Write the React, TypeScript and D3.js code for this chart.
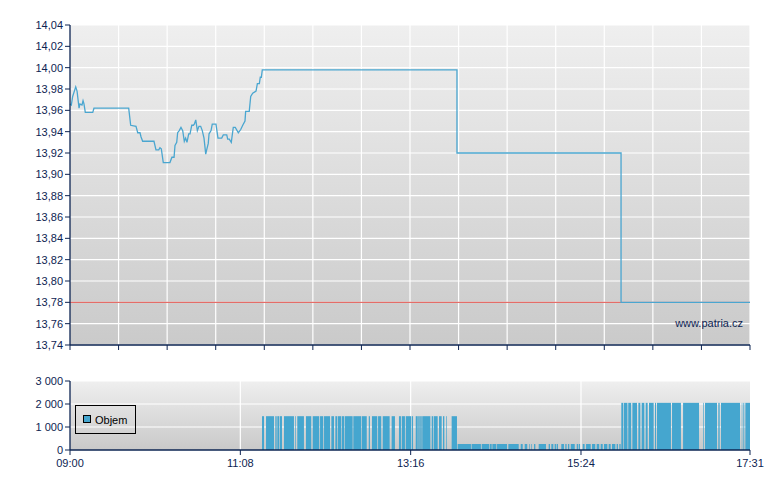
import React from "react";
import * as d3 from "d3";

// minutes since 09:00 and price
const priceMinutes = [0, 1, 2, 4.3, 5.3, 6.8, 7.5, 9, 9.8, 10.5, 11.5, 17.1, 18, 44.1, 45.6, 49.6, 50.9, 52.6, 53.4, 54.6, 61.4, 63.1, 64.6, 66.7, 67.6, 68.6, 70.1, 75.1, 76.6, 78.2, 78.9, 80.2, 80.9, 82.1, 83.4, 84.7, 85.9, 86.9, 87.9, 89.2, 90.2, 91.5, 92.7, 93.4, 94.5, 95.7, 96.9, 98.2, 99.4, 100.7, 102.0, 102.7, 103.9, 104.5, 106.0, 106.9, 109.7, 111.2, 114.0, 115.2, 117.8, 118.5, 119.7, 121.2, 122.7, 124.2, 126.5, 128.3, 129.8, 131.5, 132.0, 134.7, 135.8, 137.3, 139.8, 140.8, 142.3, 143.0, 143.8, 144.5, 290.8, 290.8, 414.1, 414.1, 511];
const priceValues = [13.966, 13.965, 13.973, 13.982, 13.978, 13.962, 13.966, 13.965, 13.969, 13.966, 13.958, 13.958, 13.962, 13.962, 13.946, 13.945, 13.939, 13.939, 13.935, 13.931, 13.931, 13.931, 13.923, 13.923, 13.925, 13.924, 13.911, 13.911, 13.916, 13.916, 13.927, 13.930, 13.939, 13.941, 13.944, 13.941, 13.931, 13.934, 13.930, 13.938, 13.938, 13.946, 13.946, 13.947, 13.951, 13.941, 13.945, 13.945, 13.941, 13.934, 13.919, 13.923, 13.929, 13.938, 13.941, 13.947, 13.947, 13.934, 13.934, 13.937, 13.937, 13.933, 13.933, 13.930, 13.944, 13.944, 13.939, 13.942, 13.946, 13.950, 13.959, 13.959, 13.973, 13.976, 13.978, 13.985, 13.985, 13.991, 13.991, 13.998, 13.998, 13.92, 13.92, 13.78, 13.78];

const referencePrice = 13.78;

// volume runs: [start minute, end minute]
const volRunsA = [[144.3,145.8],[147.3,153.3],[154.3,155.3],[155.8,157.3],[157.8,159.3],[160.8,168.3],[169.3,169.8],[170.8,175.8],[177.3,181.3],[182.4,187.3],[187.9,190.3],[190.9,195.4],[196.4,198.4],[199.4,200.9],[201.4,203.9],[204.4,205.9],[206.4,212.4],[212.9,218.9],[219.4,223.0],[224.5,225.4],[226.9,230.9],[231.5,233.9],[235.0,240.2],[241.7,244.2],[247.2,248.7],[249.3,251.7],[252.3,256.3],[256.8,257.8],[259.8,261.3],[261.7,262.8],[263.2,264.3],[264.7,270.8],[271.8,272.8],[273.3,276.3],[277.3,279.3],[280.3,281.3],[282.8,283.3],[286.8,290.8]];
const volA = 1470;
const volRunsB = [[291.3,301.3],[301.8,308.8],[309.4,314.9],[315.4,316.9],[317.4,320.4],[320.9,328.4],[329.4,337.2],[338.7,340.2],[341.7,343.6],[345.2,345.7],[346.7,347.2],[348.7,349.7],[352.2,357.7],[359.7,360.7],[361.7,363.2],[364.2,365.2],[365.7,366.7],[369.2,371.2],[372.2,373.2],[374.2,375.2],[376.3,379.3],[380.8,381.8],[382.3,383.3],[385.3,386.7],[387.8,391.3],[392.3,394.7],[395.8,397.7],[398.8,400.3],[401.3,403.8],[404.8,406.3],[407.3,409.8],[410.8,411.8],[412.8,413.8]];
const volB = 260;
const volRunsC = [[414.3,415.8],[416.3,418.9],[419.5,421.7],[422.6,426.1],[427.1,428.6],[429.6,431.6],[432.6,434.1],[435.1,438.6],[439.6,440.4],[441.1,451.6],[452.4,459.1],[460.7,472.7],[475.7,476.2],[477.2,486.2],[487.2,488.2],[489.2,503.5],[504.8,505.2],[506.0,506.7],[507.5,511]];
const volC = 2050;

const priceTicks = [13.74, 13.76, 13.78, 13.8, 13.82, 13.84, 13.86, 13.88, 13.9, 13.92, 13.94, 13.96, 13.98, 14.0, 14.02, 14.04];
const volTicks = [0, 1000, 2000, 3000];
const volTickLabels = ["0", "1 000", "2 000", "3 000"];
const timeLabelMinutes = [0, 128, 256, 384, 511];
const timeLabels = ["09:00", "11:08", "13:16", "15:24", "17:31"];
const totalMinutes = 511;
const gridIntervals = 14;

const AXIS = "#0d2452";
const LINE = "#4aa6d0";
const BAR = "#45a6cf";
const FONT = "'Liberation Sans', Arial, sans-serif";

export default function App() {
  const left = 70, right = 750;
  const top1 = 25, bot1 = 345;
  const top2 = 381, bot2 = 450;
  const x = d3.scaleLinear().domain([0, totalMinutes]).range([left, right]);
  const y = d3.scaleLinear().domain([13.74, 14.04]).range([bot1, top1]);
  const yv = d3.scaleLinear().domain([0, 3000]).range([bot2, top2]);
  const gridMinutes = d3.range(0, gridIntervals + 1).map((i) => (i * totalMinutes) / gridIntervals);
  const pts = priceMinutes.map((m, i) => [m, priceValues[i]] as [number, number]);
  const line = d3.line<[number, number]>().x((d) => x(d[0])).y((d) => y(d[1]));
  const fmt = (v: number) => v.toFixed(2).replace(".", ",");
  const runs = [
    ...volRunsA.map((r) => ({ s: r[0], e: r[1], v: volA })),
    ...volRunsB.map((r) => ({ s: r[0], e: r[1], v: volB })),
    ...volRunsC.map((r) => ({ s: r[0], e: r[1], v: volC })),
  ];
  return (
    <svg width={780} height={490} style={{ position: "absolute", left: 0, top: 0, background: "#fff" }} fontFamily={FONT}>
      <defs>
        <linearGradient id="bg1" x1="0" y1="0" x2="0" y2="1">
          <stop offset="0" stopColor="#efefef" />
          <stop offset="1" stopColor="#cacaca" />
        </linearGradient>
        <linearGradient id="bg2" x1="0" y1="0" x2="0" y2="1">
          <stop offset="0" stopColor="#efefef" />
          <stop offset="1" stopColor="#c9c9c9" />
        </linearGradient>
      </defs>
      {/* top chart */}
      <rect x={left} y={top1} width={right - left} height={bot1 - top1} fill="url(#bg1)" />
      {priceTicks.map((t) => (
        <line key={"hg" + t} x1={left} x2={right} y1={y(t)} y2={y(t)} stroke="#fff" strokeWidth={1.2} />
      ))}
      {gridMinutes.slice(1).map((m) => (
        <line key={"vg" + m} x1={x(m)} x2={x(m)} y1={top1} y2={bot1} stroke="#fff" strokeWidth={1.2} />
      ))}
      <line x1={left} x2={right} y1={y(referencePrice)} y2={y(referencePrice)} stroke="#e0504a" strokeWidth={1} />
      <path d={line(pts) || ""} fill="none" stroke={LINE} strokeWidth={1.3} />
      <text x={743} y={327} fontSize={11} fill={AXIS} textAnchor="end">www.patria.cz</text>
      <line x1={left} x2={left} y1={top1} y2={bot1} stroke={AXIS} strokeWidth={1.3} />
      <line x1={left} x2={right} y1={bot1} y2={bot1} stroke={AXIS} strokeWidth={1.3} />
      {priceTicks.map((t) => (
        <g key={"yt" + t}>
          <line x1={left - 5} x2={left} y1={y(t)} y2={y(t)} stroke={AXIS} />
          <text x={left - 7} y={y(t) + 4} fontSize={11} fill={AXIS} textAnchor="end">{fmt(t)}</text>
        </g>
      ))}
      {gridMinutes.map((m) => (
        <line key={"xt" + m} x1={x(m)} x2={x(m)} y1={bot1} y2={bot1 + 5} stroke={AXIS} />
      ))}
      {/* volume chart */}
      <rect x={left} y={top2} width={right - left} height={bot2 - top2} fill="url(#bg2)" />
      {volTicks.slice(1).map((t) => (
        <line key={"vh" + t} x1={left} x2={right} y1={yv(t)} y2={yv(t)} stroke="#fff" strokeWidth={1.2} />
      ))}
      {timeLabelMinutes.slice(1, -1).map((m) => (
        <line key={"vv" + m} x1={x(m)} x2={x(m)} y1={top2} y2={bot2} stroke="#fff" strokeWidth={1.2} />
      ))}
      {runs.map((r, i) => (
        <rect key={"b" + i} x={x(r.s)} y={yv(r.v)} width={x(r.e) - x(r.s)} height={bot2 - yv(r.v)} fill={BAR} />
      ))}
      <line x1={left} x2={left} y1={top2} y2={bot2} stroke={AXIS} strokeWidth={1.3} />
      <line x1={left} x2={right} y1={bot2} y2={bot2} stroke={AXIS} strokeWidth={1.3} />
      {volTicks.map((t, i) => (
        <g key={"vt" + t}>
          <line x1={left - 5} x2={left} y1={yv(t)} y2={yv(t)} stroke={AXIS} />
          <text x={left - 7} y={yv(t) + 4} fontSize={11} fill={AXIS} textAnchor="end">{volTickLabels[i]}</text>
        </g>
      ))}
      {timeLabelMinutes.map((m, i) => (
        <g key={"tl" + m}>
          <line x1={x(m)} x2={x(m)} y1={bot2} y2={bot2 + 5} stroke={AXIS} />
          <text x={x(m)} y={467} fontSize={11} fill={AXIS} textAnchor="middle">{timeLabels[i]}</text>
        </g>
      ))}
      {/* legend */}
      <rect x={75.5} y={405.5} width={60} height={28} fill="none" stroke="#000" strokeWidth={1} />
      <rect x={83.5} y={415.5} width={7} height={7} fill={BAR} stroke="#000" strokeWidth={1} />
      <text x={95} y={424} fontSize={11} fill="#000">Objem</text>
    </svg>
  );
}
